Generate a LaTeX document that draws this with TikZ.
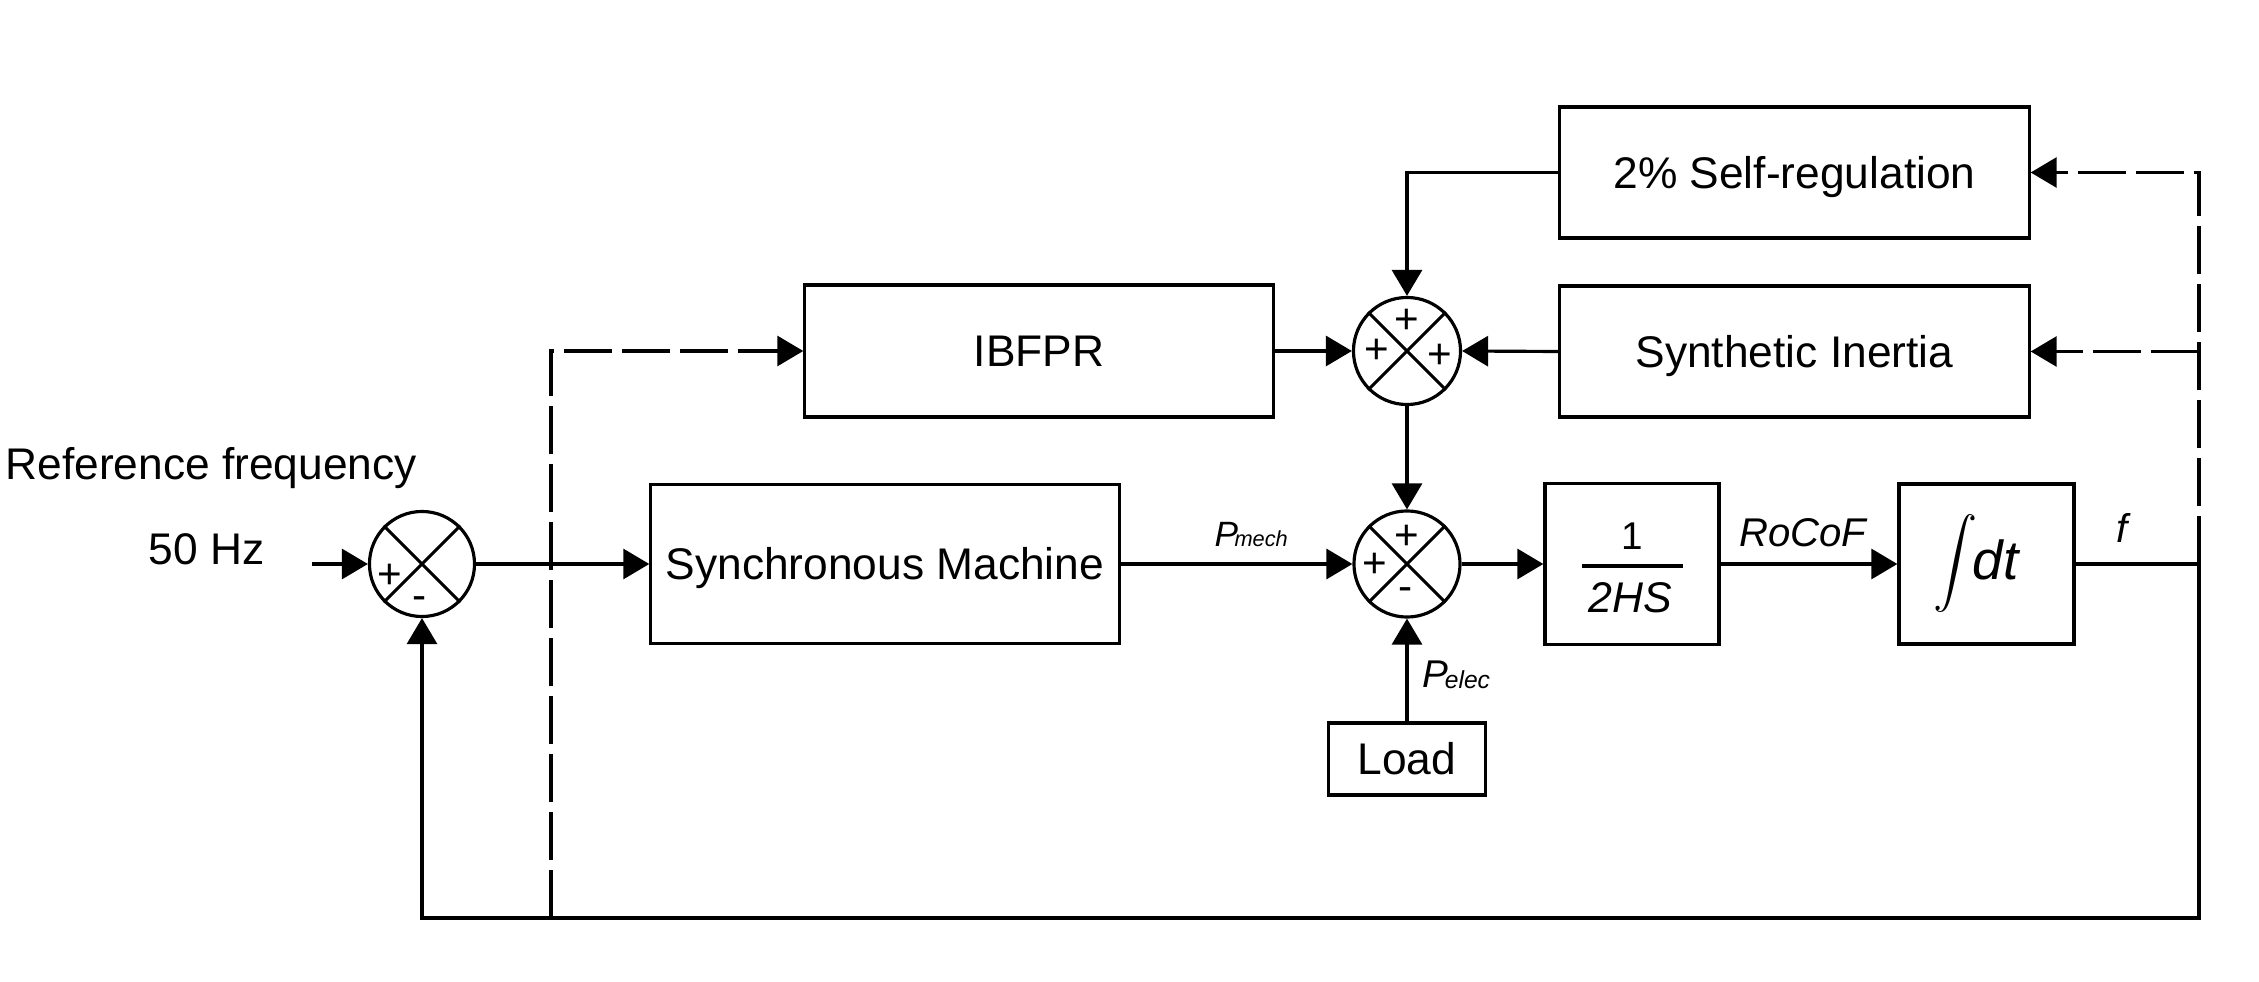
\documentclass[tikz,border=0pt]{standalone}
\usepackage{fontspec}
\setmainfont{Liberation Sans}
\usetikzlibrary{arrows.meta}
\begin{document}
\begin{tikzpicture}[x=0.01cm,y=-0.01cm,
  line width=0.9pt,
  >={Triangle[length=2.6mm,width=3mm]},
  blk/.style={draw,rectangle,inner sep=0pt,line width=0.9pt,font=\fontsize{12.6}{15}\selectfont,text height=9pt,text depth=0pt},
  sumj/.style={draw,circle,minimum size=1.06cm,inner sep=0pt,line width=0.9pt},
  sgn/.style={font=\fontsize{12}{14}\selectfont,inner sep=0pt},
  dsh/.style={dash pattern=on 4.8mm off 1mm},
  lbl/.style={inner sep=0pt,font=\fontsize{12.6}{15}\selectfont}
]
\useasboundingbox (0,0) rectangle (2259,982);

% blocks
\node[blk,minimum width=4.68cm,minimum height=1.59cm] (sm) at (885,564) {Synchronous Machine};
\node[blk,minimum width=4.68cm,minimum height=1.32cm] (ib) at (1039,351) {IBFPR};
\node[blk,minimum width=4.69cm,minimum height=1.31cm] (sr) at (1794.5,172.5) {2\% Self-regulation};
\node[blk,minimum width=4.69cm,minimum height=1.31cm] (si) at (1794.5,351.5) {Synthetic Inertia};
\node[blk,minimum width=1.74cm,minimum height=1.61cm] (tf) at (1632,564) {};
\node[blk,minimum width=1.75cm,minimum height=1.60cm] (intg) at (1986.5,564) {};
\node[blk,minimum width=1.57cm,minimum height=0.72cm] (ld) at (1407,759) {Load};

% summing junctions
\node[sumj,minimum size=1.05cm] (s1) at (422,564) {};
\node[sumj,minimum size=1.07cm] (s2) at (1407,351) {};
\node[sumj,minimum size=1.06cm] (s3) at (1407,564) {};
\foreach \s in {s1,s2,s3}{
  \draw (\s.45) -- (\s.225);
  \draw (\s.135) -- (\s.315);
}
\node[sgn] (s1a) at (390,576) {+};
\node[sgn] (s1b) at (420,603) {-};
\node[sgn] (s2a) at (1407,321) {+};
\node[sgn] (s2b) at (1377,351) {+};
\node[sgn] (s2c) at (1440,356) {+};
\node[sgn] (s3a) at (1407,537) {+};
\node[sgn] (s3b) at (1375,565) {+};
\node[sgn] (s3c) at (1406,594) {-};

% texts
\node[lbl,anchor=base west] (rf) at (4,479) {Reference frequency};
\node[lbl,anchor=base west] (hz) at (147,564) {50 Hz};
\node[inner sep=0pt,anchor=base,font=\fontsize{11}{13}\selectfont] (one) at (1632,550) {1};
\draw[line width=1.2pt] (1582,566) -- (1683,566);
\node[inner sep=0pt,anchor=base,font=\fontsize{12.2}{14}\selectfont\itshape] (hs) at (1630,613) {2HS};
\node[inner sep=0pt] (intsym) at (1956,564) {\resizebox*{!}{0.98cm}{$\displaystyle\int$}};
\node[inner sep=0pt,anchor=base west,font=\fontsize{15.6}{18}\selectfont\itshape] (dtx) at (1971,580) {dt};
\node[inner sep=0pt,anchor=base,font=\fontsize{11.4}{13}\selectfont\itshape] (rc) at (1803,547) {RoCoF};
\node[inner sep=0pt,anchor=base,font=\fontsize{11.4}{13}\selectfont\itshape] (fq) at (2122,542) {f};
\node[inner sep=0pt,anchor=base west,font=\fontsize{10}{12}\selectfont\itshape] (pm) at (1213,547) {P\kern-1pt{\fontsize{6.2}{7}\selectfont mech}};
\node[inner sep=0pt,anchor=base west,font=\fontsize{11}{13}\selectfont\itshape] (pe) at (1421,687) {P\kern-1pt\raisebox{-0.5pt}{\fontsize{7}{8}\selectfont elec}};

% coordinates
\coordinate (src) at (312,564);
\coordinate (fr) at (2199,564);
\coordinate (fb) at (2199,918);
\coordinate (fl) at (422,918);
\coordinate (db) at (551,918);
\coordinate (dt) at (551,351);
\coordinate (srk) at (1407,172.5);
\coordinate (rt) at (2199,172.5);
\coordinate (rm) at (2199,351.5);

% main path
\draw[->] (src) -- (s1.west);
\draw[->] (s1.east) -- (sm.west);
\draw[->] (sm.east) -- (s3.west);
\draw[->] (s3.east) -- (tf.west);
\draw[->] (tf.east) -- (intg.west);
\draw (intg.east) -- (fr);
\draw[->] (fr) -- (fb) -- (fl) -- (s1.south);

% upper loop
\draw[->] (ib.east) -- (s2.west);
\draw[->] (si.west) -- (s2.east);
\draw[->] (sr.west) -- (srk) -- (s2.north);
\draw[->] (s2.south) -- (s3.north);
\draw[->] (ld.north) -- (s3.south);

% dashed feedbacks
\draw[dsh,->] (db) -- (dt) -- (ib.west);
\draw[dsh,->] (fr) -- (rt) -- (sr.east);
\draw[dsh,->] (rm) -- (si.east);
\end{tikzpicture}
\end{document}
